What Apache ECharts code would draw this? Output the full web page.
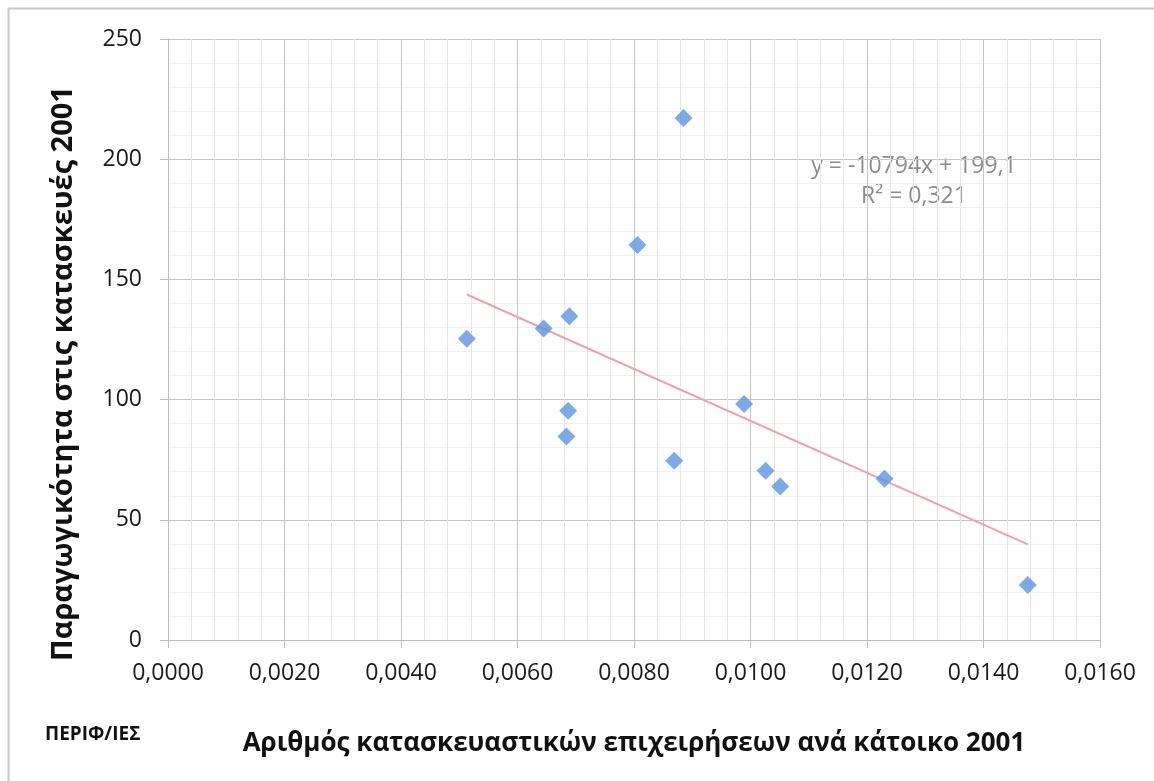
<!DOCTYPE html>
<html>
<head>
<meta charset="utf-8">
<script src="https://cdn.jsdelivr.net/npm/echarts@6/dist/echarts.min.js"></script>
<style>
html,body{margin:0;padding:0;background:#fff;}
#chart{width:1154px;height:781px;}
</style>
</head>
<body>
<div id="chart"></div>
<script>
// Data
const xValues = [0.00513, 0.00645, 0.00689, 0.00687, 0.00684, 0.00806, 0.00885, 0.00869, 0.00989, 0.01026, 0.01051, 0.01230, 0.01476];
const yValues = [125.3, 129.6, 134.7, 95.4, 84.7, 164.3, 217.1, 74.6, 98.2, 70.4, 63.9, 67.1, 22.9];
const trendSlope = [-10794];
const trendIntercept = [199.1];
const trendR2 = [0.321];
const xTicks = [0, 0.002, 0.004, 0.006, 0.008, 0.010, 0.012, 0.014, 0.016];
const yTicks = [0, 50, 100, 150, 200, 250];
const xTitle = 'Αριθμός κατασκευαστικών επιχειρήσεων ανά κάτοικο 2001';
const yTitle = 'Παραγωγικότητα στις κατασκευές 2001';
const cornerLabel = 'ΠΕΡΙΦ/ΙΕΣ';

const points = xValues.map((x, i) => [x, yValues[i]]);
const xMinData = Math.min(...xValues);
const xMaxData = Math.max(...xValues);
const trendLine = [xMinData, xMaxData].map(x => [x, trendSlope[0] * x + trendIntercept[0]]);
const fmtComma = (v, d) => v.toFixed(d).replace('.', ',');

const FONT = '"Open Sans", "Noto Sans", sans-serif';
const chart = echarts.init(document.getElementById('chart'), null, {renderer: 'canvas'});
const option = {
  backgroundColor: '#ffffff',
  animation: false,
  grid: {left: 168, right: 54, top: 39, bottom: 141, containLabel: false},
  xAxis: {
    type: 'value',
    min: xTicks[0], max: xTicks[xTicks.length - 1], interval: xTicks[1] - xTicks[0],
    name: xTitle, nameLocation: 'middle', nameGap: 91,
    nameTextStyle: {fontFamily: FONT, fontSize: 26, fontWeight: 'bold', color: '#111'},
    axisLine: {show: true, lineStyle: {color: '#bdbdbd', width: 1}},
    axisTick: {show: true, inside: false, length: 8, lineStyle: {color: '#bdbdbd'}},
    axisLabel: {margin: 22, fontFamily: FONT, fontSize: 23, color: '#1a1a1a', formatter: v => fmtComma(v, 4)},
    splitLine: {show: true, lineStyle: {color: '#c6c6c6', width: 1}},
    minorTick: {show: false, splitNumber: 5},
    minorSplitLine: {show: true, lineStyle: {color: '#e6e6e6', width: 1}}
  },
  yAxis: {
    type: 'value',
    min: yTicks[0], max: yTicks[yTicks.length - 1], interval: yTicks[1] - yTicks[0],
    name: yTitle, nameLocation: 'middle', nameGap: 90,
    nameTextStyle: {fontFamily: FONT, fontSize: 29, fontWeight: 'bold', color: '#111', padding: [0, 68, 0, 0]},
    axisLine: {show: true, lineStyle: {color: '#bdbdbd', width: 1}},
    axisTick: {show: true, inside: false, length: 8, lineStyle: {color: '#bdbdbd'}},
    axisLabel: {margin: 26, fontFamily: FONT, fontSize: 23, color: '#1a1a1a'},
    splitLine: {show: true, lineStyle: {color: '#c6c6c6', width: 1}},
    minorTick: {show: false, splitNumber: 5},
    minorSplitLine: {show: true, lineStyle: {color: '#efefef', width: 1}}
  },
  series: [
    {
      type: 'line',
      data: trendLine,
      showSymbol: false,
      symbol: 'none',
      lineStyle: {color: '#e9a2ab', width: 2},
      z: 2
    },
    {
      type: 'scatter',
      data: points,
      symbol: 'diamond',
      symbolSize: 18,
      itemStyle: {color: '#5f93dc'},
      z: 3
    }
  ],
  graphic: [
    {type: 'line', shape: {x1: 8.5, y1: 8.5, x2: 1154, y2: 8.5}, style: {stroke: '#c8c8c8', lineWidth: 2}},
    {type: 'line', shape: {x1: 8.5, y1: 8.5, x2: 8.5, y2: 781}, style: {stroke: '#c8c8c8', lineWidth: 2}},
    {type: 'text', x: 45, y: 735, style: {text: cornerLabel, font: 'bold 19px ' + FONT, fill: '#111', verticalAlign: 'middle'}},
    {type: 'text', x: 914, y: 166, style: {text: 'y = ' + trendSlope[0] + 'x + ' + fmtComma(trendIntercept[0], 1), font: '23px ' + FONT, fill: '#8c8c8c', align: 'center', verticalAlign: 'middle'}},
    {type: 'text', x: 914, y: 196, style: {text: 'R² = ' + fmtComma(trendR2[0], 3), font: '23px ' + FONT, fill: '#8c8c8c', align: 'center', verticalAlign: 'middle'}}
  ]
};
chart.setOption(option);
</script>
</body>
</html>
